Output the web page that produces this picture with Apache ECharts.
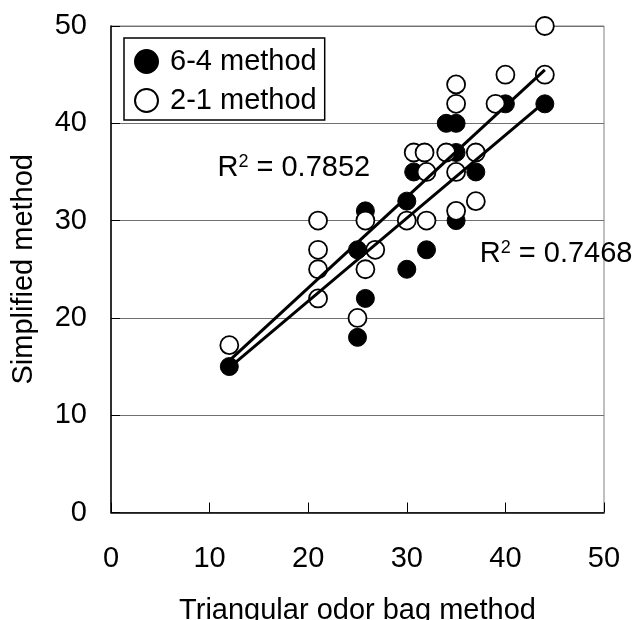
<!DOCTYPE html>
<html><head><meta charset="utf-8">
<script src="https://cdn.jsdelivr.net/npm/echarts@6/dist/echarts.min.js"></script>
<style>html,body{margin:0;padding:0;background:#fff}#c{width:635px;height:620px}</style>
</head><body><div id="c"></div>
<script>
const seriesNames = ['6-4 method', '2-1 method'];
const method64 = [[12,15],[25,18],[25.8,22],[25,27],[25.8,31],[30,25],[32,27],[30,32],[30.7,35],[35,30],[37,35],[35,37],[34,40],[35,40],[40,42],[44,42]];
const method21 = [[12,17.2],[21,22],[21,25],[21,27],[21,30],[25,20],[25.8,25],[26.8,27],[25.8,30],[30,30],[32,30],[35,31],[37,32],[32,35],[35,35],[30.7,37],[31.8,37],[34,37],[37,37],[35,42],[39,42],[35,44],[40,45],[44,45],[44,50]];
const trend64 = [[12,14.9],[44,42.2]];
const trend21 = [[12,15.6],[44,45.5]];
const r2Values = ['0.7852', '0.7468'];
const r2Anchors = [[10.8,35.4],[37.4,26.6]];
const xTitle = 'Triangular odor bag method';
const yTitle = 'Simplified method';

const FONT = 'Liberation Sans, Arial, sans-serif';
const FS = 29;
const chart = echarts.init(document.getElementById('c'), null, {renderer: 'canvas'});

const axisCommon = {
  type: 'value', min: 0, max: 50, interval: 10,
  axisLine: {show: true, lineStyle: {color: '#000', width: 1.5}},
  axisTick: {show: true, inside: true, length: 10, lineStyle: {color: '#000', width: 1}},
  axisLabel: {fontSize: FS, color: '#000', fontFamily: FONT},
  nameLocation: 'middle',
  nameTextStyle: {fontSize: FS, color: '#000', fontFamily: FONT}
};

chart.setOption({
  animation: false,
  backgroundColor: '#fff',
  textStyle: {fontFamily: FONT},
  grid: {left: 111, top: 26, width: 493, height: 486.5, containLabel: false, outerBoundsMode: 'none',
         show: true, borderColor: '#808080', borderWidth: 1, backgroundColor: 'transparent'},
  legend: {
    orient: 'vertical', left: 124, top: 38,
    data: seriesNames,
    borderColor: '#000', borderWidth: 1.5,
    padding: [8, 8, 4, 10],
    itemWidth: 23, itemHeight: 23, itemGap: 8,
    textStyle: {fontSize: FS, color: '#000', fontFamily: FONT, lineHeight: 31, padding: [0, 0, 0, 7]}
  },
  xAxis: Object.assign({}, axisCommon, {
    name: xTitle, nameGap: 84,
    splitLine: {show: false},
    axisLabel: Object.assign({}, axisCommon.axisLabel, {margin: 32})
  }),
  yAxis: Object.assign({}, axisCommon, {
    name: yTitle, nameGap: 73, nameRotate: 90,
    axisTick: {show: true, inside: true, length: 9, lineStyle: {color: '#000', width: 1}},
    splitLine: {show: true, lineStyle: {color: '#707070', width: 1}},
    axisLabel: Object.assign({}, axisCommon.axisLabel, {margin: 24})
  }),
  series: [
    {
      name: seriesNames[0], type: 'scatter', data: method64, symbol: 'circle', symbolSize: 18,
      itemStyle: {color: '#000', borderColor: '#000', borderWidth: 1, opacity: 1}, z: 2, clip: false
    },
    {
      name: seriesNames[1], type: 'scatter', data: method21, symbol: 'circle', symbolSize: 18,
      itemStyle: {color: '#fff', borderColor: '#000', borderWidth: 1.8, opacity: 1}, z: 3, clip: false
    },
    {
      type: 'line', data: trend64, symbol: 'none', lineStyle: {color: '#000', width: 3}, z: 4, silent: true
    },
    {
      type: 'line', data: trend21, symbol: 'none', lineStyle: {color: '#000', width: 3}, z: 4, silent: true
    },
    {
      type: 'scatter', symbolSize: 0, silent: true, z: 5, clip: false,
      itemStyle: {opacity: 1},
      data: r2Anchors.map((p, i) => ({value: p, r2: r2Values[i]})),
      label: {
        show: true, position: 'right', distance: 0, opacity: 1,
        formatter: p => 'R{sup|2} = ' + p.data.r2,
        fontSize: FS, color: '#000', fontFamily: FONT, lineHeight: 30,
        rich: {sup: {fontSize: 18, lineHeight: 18, verticalAlign: 'top', color: '#000', fontFamily: FONT}}
      }
    }
  ]
});
</script>
</body></html>
